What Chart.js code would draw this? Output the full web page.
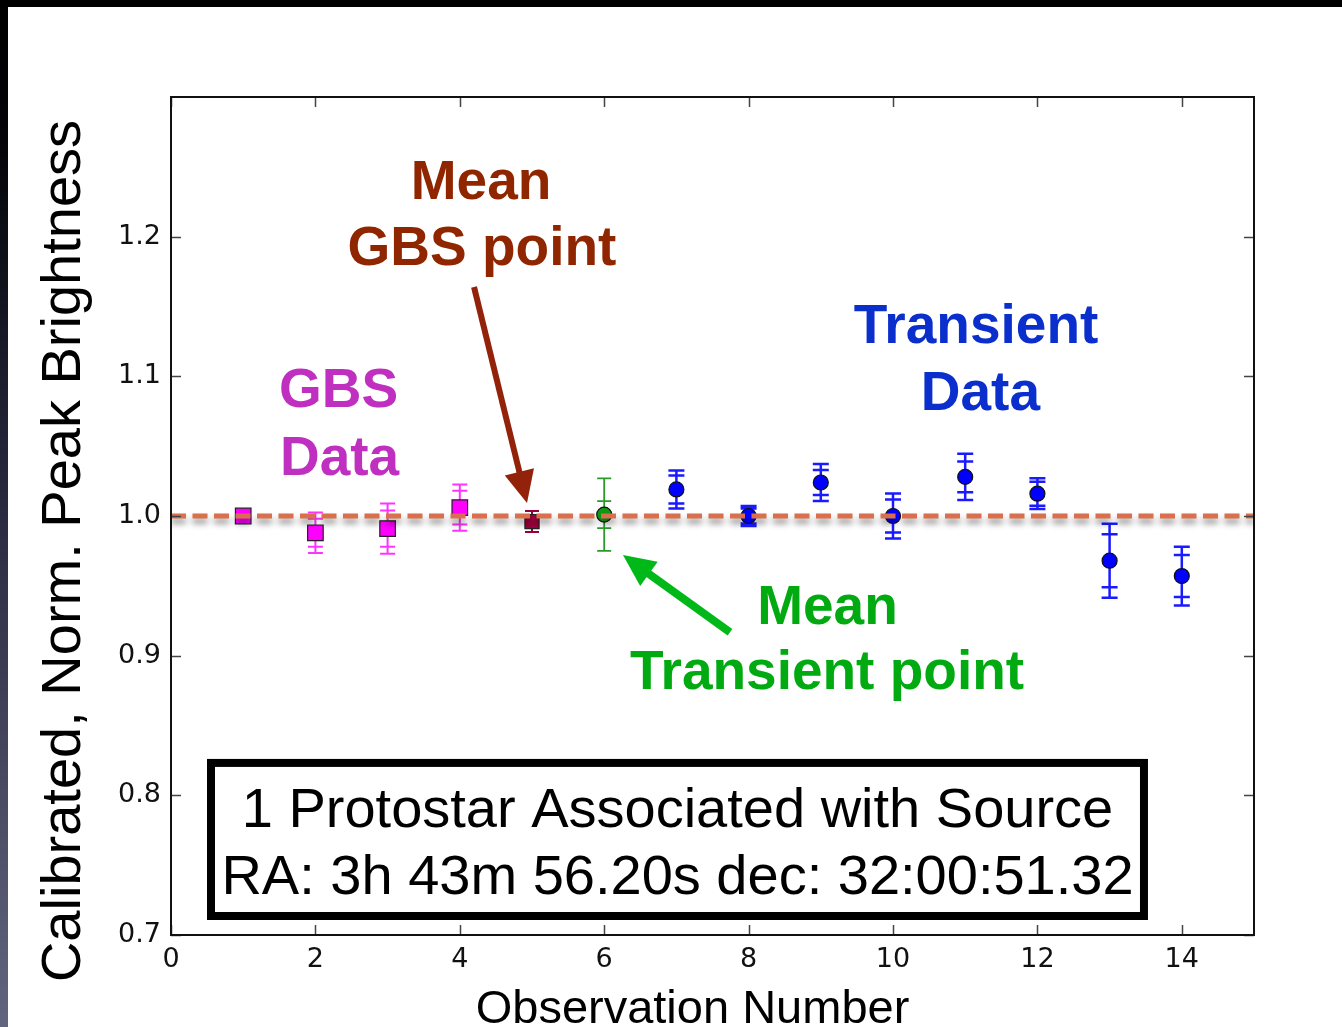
<!DOCTYPE html>
<html><head><meta charset="utf-8">
<script src="https://cdn.jsdelivr.net/npm/chart.js@4.4.1/dist/chart.umd.min.js"></script>
<style>html,body{margin:0;padding:0;background:#fff;overflow:hidden}canvas{display:block}</style>
</head><body>
<canvas id="c" width="1342" height="1027"></canvas>
<script>
// Ground-based survey (GBS) observations
const gbsObs = [1, 2, 3, 4];
const gbsBrightness = [1.000, 0.988, 0.991, 1.006];
const gbsErrTotal = [0.003, 0.0145, 0.018, 0.0165];
const gbsErrStat = [0.002, 0.010, 0.013, 0.012];

// Mean of the GBS observations
const gbsMeanObs = [5];
const gbsMeanBrightness = [0.996];
const gbsMeanErrTotal = [0.0075];
const gbsMeanErrStat = [0.0075];

// Mean of the transient observations
const transMeanObs = [6];
const transMeanBrightness = [1.001];
const transMeanErrTotal = [0.026];
const transMeanErrStat = [0.0097];

// Transient survey observations
const transObs = [7, 8, 9, 10, 11, 12, 13, 14];
const transBrightness = [1.019, 1.000, 1.024, 1.000, 1.028, 1.016, 0.968, 0.957];
const transErrTotal = [0.0136, 0.0072, 0.0133, 0.0161, 0.0165, 0.011, 0.0265, 0.021];
const transErrStat = [0.010, 0.0054, 0.009, 0.0118, 0.011, 0.0086, 0.019, 0.015];

const meanLevel = 1.0;
const xRange = [0, 15];
const yRange = [0.7, 1.3];
const xTicks = [0, 2, 4, 6, 8, 10, 12, 14];
const yTicks = [0.7, 0.8, 0.9, 1.0, 1.1, 1.2];

const xTitle = 'Observation Number';
const yTitle = 'Calibrated, Norm. Peak Brightness';
const boxLines = ['1 Protostar Associated with Source', 'RA: 3h 43m 56.20s dec: 32:00:51.32'];

// Callout labels, placed in data coordinates
const callouts = [
  { text: 'Mean', x: 4.294, y: 1.227, color: '#8f2600' },
  { text: 'GBS point', x: 4.307, y: 1.1797, color: '#8f2600' },
  { text: 'GBS', x: 2.320, y: 1.078, color: '#c030c0' },
  { text: 'Data', x: 2.334, y: 1.0294, color: '#c030c0' },
  { text: 'Transient', x: 11.15, y: 1.1239, color: '#0a2fcc' },
  { text: 'Data', x: 11.21, y: 1.0759, color: '#0a2fcc' },
  { text: 'Mean', x: 9.093, y: 0.9227, color: '#00aa10' },
  { text: 'Transient point', x: 9.086, y: 0.8761, color: '#00aa10' }
];
const arrows = [
  { from: [4.197, 1.164], to: [4.931, 1.0093], color: '#92230a', shaft: 6, head: 32, half: 15 },
  { from: [7.742, 0.9168], to: [6.26, 0.972], color: '#00b818', shaft: 8, head: 32, half: 15 }
];
const infoBox = { left: 0.554, right: 13.476, top: 0.8232, bottom: 0.7136, cx: 7.015, baselines: [0.7773, 0.7294] };

const mk = (xs, ys) => xs.map((x, i) => ({ x: x, y: ys[i] }));

const pageBackground = {
  id: 'pageBackground',
  beforeDraw(chart) {
    const ctx = chart.ctx, w = chart.width, h = chart.height;
    ctx.save();
    ctx.fillStyle = '#ffffff';
    ctx.fillRect(0, 0, w, h);
    const g = ctx.createLinearGradient(0, 0, 0, h);
    g.addColorStop(0, '#000000');
    g.addColorStop(0.15, '#05050a');
    g.addColorStop(0.45, '#25253a');
    g.addColorStop(1, '#62657f');
    ctx.fillStyle = g;
    ctx.fillRect(0, 0, 8, h);
    ctx.fillStyle = '#000000';
    ctx.fillRect(0, 0, w, 7);
    ctx.restore();
  }
};

// Soft drop shadow under the mean level line
const lineShadow = {
  id: 'lineShadow',
  beforeDatasetDraw(chart, args) {
    if (chart.data.datasets[args.index].shadow) {
      const ctx = chart.ctx;
      ctx.save();
      ctx.shadowColor = 'rgba(0,0,0,0.45)';
      ctx.shadowOffsetY = 5;
      ctx.shadowBlur = 6;
    }
  },
  afterDatasetDraw(chart, args) {
    if (chart.data.datasets[args.index].shadow) chart.ctx.restore();
  }
};

// Vertical error bars with caps for total and statistical errors
const errorBars = {
  id: 'errorBars',
  beforeDatasetsDraw(chart) {
    const ctx = chart.ctx, ys = chart.scales.y, a = chart.chartArea;
    ctx.save();
    ctx.beginPath();
    ctx.rect(a.left, a.top, a.right - a.left, a.bottom - a.top);
    ctx.clip();
    chart.data.datasets.forEach((ds, di) => {
      if (!ds.errTotal) return;
      const meta = chart.getDatasetMeta(di);
      ctx.strokeStyle = ds.errColor;
      ctx.lineWidth = ds.errWidth;
      meta.data.forEach((pt, i) => {
        const v = ds.data[i].y;
        const x = pt.x;
        const t = ds.errTotal[i], s = ds.errStat[i];
        const y1 = ys.getPixelForValue(v + t), y2 = ys.getPixelForValue(v - t);
        ctx.beginPath();
        ctx.moveTo(x, y1); ctx.lineTo(x, y2);
        const cw = ds.capHalf;
        [v + t, v - t, v + s, v - s].forEach(val => {
          const yy = ys.getPixelForValue(val);
          ctx.moveTo(x - cw, yy); ctx.lineTo(x + cw, yy);
        });
        ctx.stroke();
      });
    });
    ctx.restore();
  }
};

// Frame, inward ticks, titles and annotations
const decorations = {
  id: 'decorations',
  afterDraw(chart) {
    const ctx = chart.ctx, xs = chart.scales.x, ys = chart.scales.y, a = chart.chartArea;
    ctx.save();
    // inward tick marks on all four sides
    ctx.strokeStyle = '#444';
    ctx.lineWidth = 1.5;
    ctx.beginPath();
    xTicks.forEach(v => {
      const x = Math.round(xs.getPixelForValue(v)) + 0.5;
      ctx.moveTo(x, a.bottom); ctx.lineTo(x, a.bottom - 10);
      ctx.moveTo(x, a.top); ctx.lineTo(x, a.top + 10);
    });
    yTicks.forEach(v => {
      const y = Math.round(ys.getPixelForValue(v)) + 0.5;
      ctx.moveTo(a.left, y); ctx.lineTo(a.left + 10, y);
      ctx.moveTo(a.right, y); ctx.lineTo(a.right - 10, y);
    });
    ctx.stroke();
    // plot frame
    ctx.strokeStyle = '#111';
    ctx.lineWidth = 2;
    ctx.strokeRect(a.left, a.top, a.right - a.left, a.bottom - a.top);

    // axis titles
    ctx.fillStyle = '#000';
    ctx.textAlign = 'center';
    ctx.textBaseline = 'alphabetic';
    ctx.font = '47px "Liberation Sans", Arial, sans-serif';
    ctx.fillText(xTitle, (a.left + a.right) / 2 - 20, 1023);
    ctx.save();
    ctx.translate(80, 551);
    ctx.rotate(-Math.PI / 2);
    ctx.font = '56px "Liberation Sans", Arial, sans-serif';
    ctx.fillText(yTitle, 0, 0);
    ctx.restore();

    // callout texts
    ctx.font = 'bold 55px "Liberation Sans", Arial, sans-serif';
    callouts.forEach(c => {
      ctx.fillStyle = c.color;
      ctx.fillText(c.text, xs.getPixelForValue(c.x), ys.getPixelForValue(c.y));
    });

    // arrows
    arrows.forEach(ar => {
      const x0 = xs.getPixelForValue(ar.from[0]), y0 = ys.getPixelForValue(ar.from[1]);
      const x1 = xs.getPixelForValue(ar.to[0]), y1 = ys.getPixelForValue(ar.to[1]);
      const len = Math.hypot(x1 - x0, y1 - y0);
      const ux = (x1 - x0) / len, uy = (y1 - y0) / len;
      const bx = x1 - ux * ar.head, by = y1 - uy * ar.head;
      ctx.strokeStyle = ar.color;
      ctx.fillStyle = ar.color;
      ctx.lineWidth = ar.shaft;
      ctx.lineCap = 'butt';
      ctx.beginPath();
      ctx.moveTo(x0, y0); ctx.lineTo(bx + ux * 2, by + uy * 2);
      ctx.stroke();
      ctx.beginPath();
      ctx.moveTo(x1, y1);
      ctx.lineTo(bx - uy * ar.half, by + ux * ar.half);
      ctx.lineTo(bx + uy * ar.half, by - ux * ar.half);
      ctx.closePath();
      ctx.fill();
    });

    // information box
    const bl = xs.getPixelForValue(infoBox.left), br = xs.getPixelForValue(infoBox.right);
    const bt = ys.getPixelForValue(infoBox.top), bb = ys.getPixelForValue(infoBox.bottom);
    ctx.fillStyle = '#fff';
    ctx.fillRect(bl, bt, br - bl, bb - bt);
    ctx.strokeStyle = '#000';
    ctx.lineWidth = 8;
    ctx.strokeRect(bl, bt, br - bl, bb - bt);
    ctx.fillStyle = '#000';
    ctx.font = '56px "Liberation Sans", Arial, sans-serif';
    boxLines.forEach((t, i) => {
      ctx.fillText(t, xs.getPixelForValue(infoBox.cx), ys.getPixelForValue(infoBox.baselines[i]));
    });
    ctx.restore();
  }
};

const tickFont = { family: '"DejaVu Sans", sans-serif', size: 27 };

new Chart(document.getElementById('c'), {
  type: 'scatter',
  data: {
    datasets: [
      {
        type: 'line', label: 'Mean level', shadow: true,
        data: [{ x: xRange[0], y: meanLevel }, { x: xRange[1], y: meanLevel }],
        borderColor: '#d96f4c', borderWidth: 5, borderDash: [15, 6.5],
        pointRadius: 0, fill: false
      },
      {
        label: 'Mean GBS point', data: mk(gbsMeanObs, gbsMeanBrightness),
        errTotal: gbsMeanErrTotal, errStat: gbsMeanErrStat, errColor: '#99003a', errWidth: 2, capHalf: 7,
        pointStyle: 'rect', pointRadius: 10, backgroundColor: '#99003a', borderColor: '#222', borderWidth: 1.2
      },
      {
        label: 'Mean transient point', data: mk(transMeanObs, transMeanBrightness),
        errTotal: transMeanErrTotal, errStat: transMeanErrStat, errColor: '#2a9a2a', errWidth: 1.8, capHalf: 7,
        pointStyle: 'circle', pointRadius: 7.5, backgroundColor: '#119911', borderColor: '#111', borderWidth: 1.2
      },
      {
        label: 'GBS data', data: mk(gbsObs, gbsBrightness),
        errTotal: gbsErrTotal, errStat: gbsErrStat, errColor: '#ff33ff', errWidth: 2, capHalf: 7.5,
        pointStyle: 'rect', pointRadius: 11, backgroundColor: '#ff00ff', borderColor: '#222', borderWidth: 1.2
      },
      {
        label: 'Transient data', data: mk(transObs, transBrightness),
        errTotal: transErrTotal, errStat: transErrStat, errColor: '#1a1aff', errWidth: 2.5, capHalf: 8,
        pointStyle: 'circle', pointRadius: 7.5, backgroundColor: '#0000ff', borderColor: '#111', borderWidth: 1.2
      }
    ]
  },
  options: {
    responsive: false,
    devicePixelRatio: 1,
    animation: false,
    layout: { padding: { top: 97, right: 88, left: 0, bottom: 0 } },
    plugins: { legend: { display: false }, tooltip: { enabled: false } },
    scales: {
      x: {
        type: 'linear', min: xRange[0], max: xRange[1],
        afterBuildTicks: s => { s.ticks = xTicks.map(v => ({ value: v })); },
        afterFit: s => { s.height = 92; },
        grid: { display: true, drawOnChartArea: false, drawTicks: false },
        border: { display: false },
        ticks: { font: tickFont, color: '#111', padding: 9, maxRotation: 0, callback: v => String(v) }
      },
      y: {
        type: 'linear', min: yRange[0], max: yRange[1],
        afterBuildTicks: s => { s.ticks = yTicks.map(v => ({ value: v })); },
        afterFit: s => { s.width = 171; },
        grid: { display: true, drawOnChartArea: false, drawTicks: false },
        border: { display: false },
        ticks: { font: tickFont, color: '#111', padding: 10, callback: v => Number(v).toFixed(1) }
      }
    }
  },
  plugins: [pageBackground, lineShadow, errorBars, decorations]
});
</script>
</body></html>
